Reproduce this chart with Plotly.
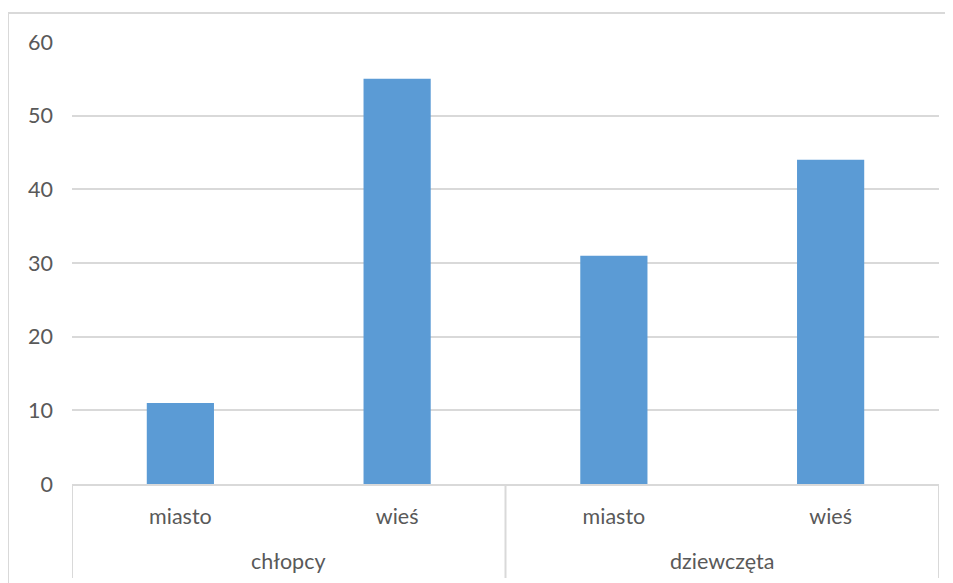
import plotly.graph_objects as go

groups = ["chłopcy", "chłopcy", "dziewczęta", "dziewczęta"]
places = ["miasto", "wieś", "miasto", "wieś"]
values = [11, 55, 31, 44]
y_ticks = [0, 10, 20, 30, 40, 50, 60]

GRID = "#d9d9d9"
TXT = "#595959"
FONT = "Lato"
FS = 21.5

cats = [f"{g}|{p}" for g, p in zip(groups, places)]

fig = go.Figure(go.Bar(
    x=cats,
    y=values,
    marker=dict(color="#5b9bd5", line=dict(width=0)),
    width=0.31,
))

fig.update_layout(
    width=945, height=575,
    margin=dict(l=64, r=14, t=34, b=99),
    paper_bgcolor="white", plot_bgcolor="white",
    showlegend=False,
    font=dict(family=FONT, size=FS, color=TXT),
)
fig.update_xaxes(
    type="category",
    tickvals=cats, ticktext=places,
    showline=True, linecolor=GRID, linewidth=2,
    showgrid=False, ticks="",
    tickfont=dict(family=FONT, size=FS, color=TXT),
    ticklabelstandoff=12,
    range=[-0.5, len(cats) - 0.5],
)
fig.update_yaxes(
    range=[0, 60], tickvals=y_ticks,
    showgrid=True, gridcolor=GRID, gridwidth=2,
    zeroline=False, showline=False,
    tickfont=dict(family=FONT, size=FS, color=TXT),
    ticklabelstandoff=18,
)

# group labels and dividers
uniq = []
for g in groups:
    if g not in uniq:
        uniq.append(g)
for g in uniq:
    idx = [i for i, gg in enumerate(groups) if gg == g]
    center = (idx[0] + idx[-1]) / 2
    fig.add_annotation(x=center, xref="x", y=-0.1742, yref="paper",
                       text=g, showarrow=False, yanchor="middle",
                       font=dict(family=FONT, size=FS, color=TXT))
bounds = [-0.5] + [i + 0.5 for i in range(len(groups) - 1) if groups[i] != groups[i + 1]] + [len(groups) - 0.5]
for b in bounds:
    fig.add_shape(type="line", xref="x", yref="paper",
                  x0=b, x1=b, y0=0, y1=-0.2127,
                  line=dict(color=GRID, width=2))

# chart area border (top and left edges visible)
fig.add_shape(type="line", xref="paper", yref="paper",
              x0=-0.0738, x1=1.02, y0=1.0656, y1=1.0656,
              line=dict(color=GRID, width=2))
fig.add_shape(type="line", xref="paper", yref="paper",
              x0=-0.0738, x1=-0.0738, y0=1.0656, y1=-0.3,
              line=dict(color=GRID, width=2))

fig.write_html("out.html")
